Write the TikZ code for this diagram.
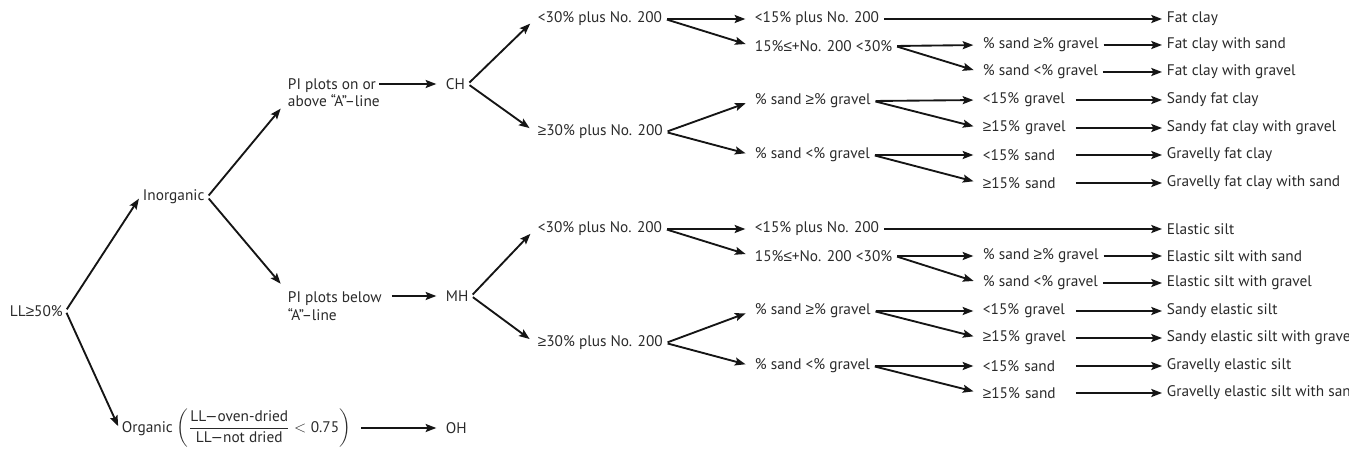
\documentclass[tikz,border=0pt]{standalone}
\usepackage{amsmath}
\usepackage{fontspec}
\setmainfont{PT Sans}
\newfontfamily\symfont{Liberation Sans}
\newcommand{\gsym}{{\symfont ≥}}
\newcommand{\lsym}{{\symfont ≤}}
\usepackage{tikz}
\usetikzlibrary{arrows.meta, positioning}
\usepackage{xcolor}
\definecolor{soilink}{HTML}{2A2A2A}
\definecolor{soilline}{HTML}{151515}

\begin{document}
\begin{tikzpicture}[x=0.75pt, y=-0.75pt,
    lbl/.style={anchor=west, inner sep=2pt, font=\fontsize{11.5}{13}\selectfont,
                text=soilink},
    two/.style={lbl, align=left},
    short/.style={lbl, text width=66pt, align=left},
    arr/.style={-{Stealth[length=8pt, width=6pt, inset=1.5pt]}, line width=1.4pt,
                soilline, shorten >=5pt, shorten <=1.5pt},
    fin/.style={arr, shorten >=1.5pt}
  ]
    \useasboundingbox (0,0) rectangle (1349,452);

    \node[lbl] (ll) at (7,311) {LL\gsym50\%};
    \node[lbl] (inorg) at (140,197) {Inorganic};
    \node[lbl] (org) at (119,428)
      {Organic $\left(\dfrac{\text{LL—oven-dried}}{\text{LL—not dried}}
       < \text{0.75}\right)$};
    \node[two] (pia) at (285,93) {PI plots on or\\above “A”–line};
    \node[two] (pib) at (285,306) {PI plots below\\“A”–line};
    \node[lbl] (ch) at (443,84) {CH};
    \node[lbl] (mh) at (443,296) {MH};
    \node[lbl] (oh) at (443,428) {OH};

    \node[lbl] (ca) at (535,19) {<30\% plus No. 200};
    \node[lbl] (cb) at (535,132) {\gsym30\% plus No. 200};
    \node[lbl] (caa) at (752,19) {<15\% plus No. 200};
    \node[lbl] (cab) at (752,46) {15\%\lsym+No. 200 <30\%};
    \node[lbl] (cba) at (752,101) {\% sand \gsym\% gravel};
    \node[lbl] (cbb) at (752,155) {\% sand <\% gravel};
    \node[lbl] (caba) at (980,45) {\% sand \gsym\% gravel};
    \node[lbl] (cabb) at (980,72) {\% sand <\% gravel};
    \node[short] (cbaa) at (980,100) {<15\% gravel};
    \node[short] (cbab) at (980,128) {\gsym15\% gravel};
    \node[short] (cbba) at (980,155) {<15\% sand};
    \node[short] (cbbb) at (980,183) {\gsym15\% sand};
    \node[lbl] (c1) at (1164,19) {Fat clay};
    \node[lbl] (c2) at (1164,45) {Fat clay with sand};
    \node[lbl] (c3) at (1164,72) {Fat clay with gravel};
    \node[lbl] (c4) at (1164,100) {Sandy fat clay};
    \node[lbl] (c5) at (1164,128) {Sandy fat clay with gravel};
    \node[lbl] (c6) at (1164,155) {Gravelly fat clay};
    \node[lbl] (c7) at (1164,183) {Gravelly fat clay with sand};

    \node[lbl] (ma) at (535,229) {<30\% plus No. 200};
    \node[lbl] (mb) at (535,343) {\gsym30\% plus No. 200};
    \node[lbl] (maa) at (752,229) {<15\% plus No. 200};
    \node[lbl] (mab) at (752,256) {15\%\lsym+No. 200 <30\%};
    \node[lbl] (mba) at (752,311) {\% sand \gsym\% gravel};
    \node[lbl] (mbb) at (752,366) {\% sand <\% gravel};
    \node[lbl] (maba) at (980,256) {\% sand \gsym\% gravel};
    \node[lbl] (mabb) at (980,283) {\% sand <\% gravel};
    \node[short] (mbaa) at (980,311) {<15\% gravel};
    \node[short] (mbab) at (980,338) {\gsym15\% gravel};
    \node[short] (mbba) at (980,366) {<15\% sand};
    \node[short] (mbbb) at (980,393) {\gsym15\% sand};
    \node[lbl] (m1) at (1164,229) {Elastic silt};
    \node[lbl] (m2) at (1164,256) {Elastic silt with sand};
    \node[lbl] (m3) at (1164,283) {Elastic silt with gravel};
    \node[lbl] (m4) at (1164,311) {Sandy elastic silt};
    \node[lbl] (m5) at (1164,338) {Sandy elastic silt with grave};
    \node[lbl] (m6) at (1164,366) {Gravelly elastic silt};
    \node[lbl] (m7) at (1164,393) {Gravelly elastic silt with san};

    \draw[fin] (ll.east) -- (inorg.west);
    \draw[fin] (ll.east) -- (org.west);
    \draw[arr] (inorg.east) -- ([yshift=5pt]pia.south west);
    \draw[arr] (inorg.east) -- (pib.north west);
    \draw[arr] ([xshift=-4pt]pia.east |- ch.west) -- (ch.west);
    \draw[arr] ([xshift=4pt]pib.east |- mh.west) -- (mh.west);
    \draw[arr] ([xshift=4pt]org.east) -- (oh.west);

    \draw[arr] (ch.east) -- (ca.west);
    \draw[arr] (ch.east) -- (cb.west);
    \draw[arr] (ca.east) -- (caa.west);
    \draw[arr] (ca.east) -- (cab.west);
    \draw[arr] (cb.east) -- (cba.west);
    \draw[arr] (cb.east) -- (cbb.west);
    \draw[arr] (cab.east) -- (caba.west);
    \draw[arr] (cab.east) -- (cabb.west);
    \draw[arr] (cba.east) -- (cbaa.west);
    \draw[arr] (cba.east) -- (cbab.west);
    \draw[arr] (cbb.east) -- (cbba.west);
    \draw[arr] (cbb.east) -- (cbbb.west);
    \draw[fin] (caa.east) -- (c1.west);
    \draw[fin] (caba.east) -- (c2.west);
    \draw[fin] (cabb.east) -- (c3.west);
    \draw[fin] (cbaa.east) -- (c4.west);
    \draw[fin] (cbab.east) -- (c5.west);
    \draw[fin] (cbba.east) -- (c6.west);
    \draw[fin] (cbbb.east) -- (c7.west);

    \draw[arr] (mh.east) -- (ma.west);
    \draw[arr] (mh.east) -- (mb.west);
    \draw[arr] (ma.east) -- (maa.west);
    \draw[arr] (ma.east) -- (mab.west);
    \draw[arr] (mb.east) -- (mba.west);
    \draw[arr] (mb.east) -- (mbb.west);
    \draw[arr] (mab.east) -- (maba.west);
    \draw[arr] (mab.east) -- (mabb.west);
    \draw[arr] (mba.east) -- (mbaa.west);
    \draw[arr] (mba.east) -- (mbab.west);
    \draw[arr] (mbb.east) -- (mbba.west);
    \draw[arr] (mbb.east) -- (mbbb.west);
    \draw[fin] (maa.east) -- (m1.west);
    \draw[fin] (maba.east) -- (m2.west);
    \draw[fin] (mabb.east) -- (m3.west);
    \draw[fin] (mbaa.east) -- (m4.west);
    \draw[fin] (mbab.east) -- (m5.west);
    \draw[fin] (mbba.east) -- (m6.west);
    \draw[fin] (mbbb.east) -- (m7.west);
  \end{tikzpicture}
\end{document}
